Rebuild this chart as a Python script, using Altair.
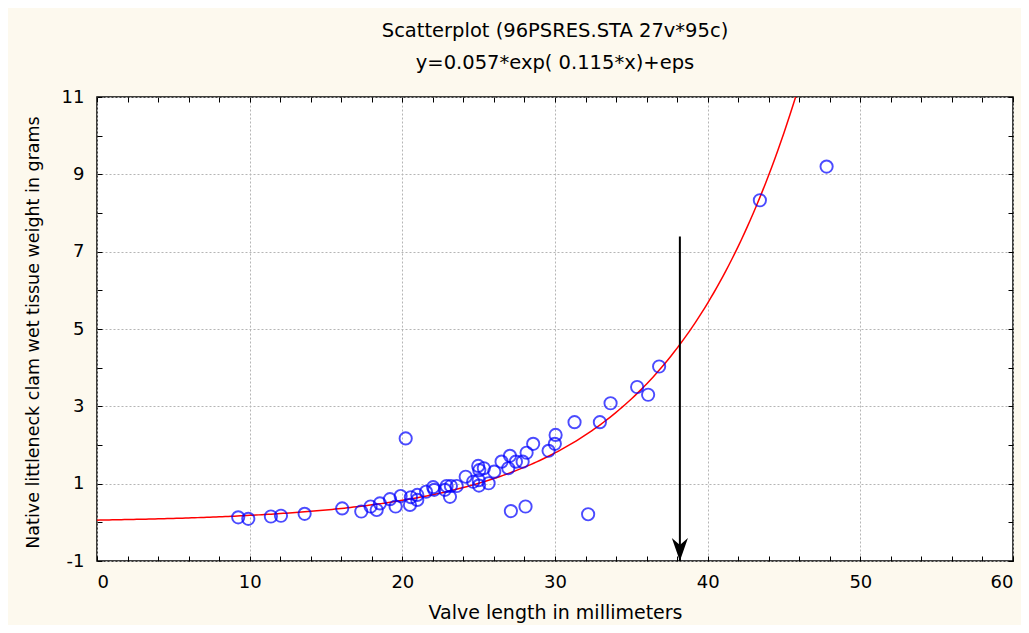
import altair as alt
import pandas as pd
import numpy as np

# Observed points (valve length mm, wet tissue weight g)
valve_length = [9.25, 9.91, 11.39, 12.05, 13.60, 16.06, 17.31, 17.92, 18.32, 18.53,
                19.19, 19.56, 19.89, 20.22, 20.50, 20.56, 20.98, 20.98, 21.55, 22.02,
                22.09, 22.79, 22.90, 23.12, 23.18, 23.56, 24.15, 24.64, 24.97, 25.04,
                25.02, 25.34, 25.65, 26.02, 26.50, 26.94, 27.05, 27.11, 27.44, 27.88,
                28.07, 28.14, 28.57, 29.58, 29.99, 30.04, 31.28, 32.17, 32.94, 33.64,
                35.38, 36.10, 36.82, 43.42, 47.79, 25.00]
tissue_weight = [0.13, 0.09, 0.15, 0.17, 0.22, 0.36, 0.28, 0.41, 0.32, 0.49,
                 0.60, 0.41, 0.68, 2.17, 0.45, 0.65, 0.71, 0.58, 0.79, 0.91,
                 0.84, 0.84, 0.94, 0.66, 0.94, 0.94, 1.18, 1.05, 1.46, 1.35,
                 0.95, 1.40, 1.01, 1.31, 1.57, 1.40, 1.72, 0.29, 1.57, 1.57,
                 0.41, 1.80, 2.03, 1.85, 2.03, 2.26, 2.59, 0.21, 2.59, 3.08,
                 3.50, 3.30, 4.03, 8.33, 9.20, 1.09]

# Fitted model from the title: y = 0.057*exp(0.115*x)
fit_a = 0.057
fit_b = 0.115
curve_x = list(np.arange(0, 47.01, 0.2))

# Marker (arrow) position
arrow_x = [38.18]
arrow_top = [7.39]
arrow_bottom = [-1.0]

x_major = [0, 10, 20, 30, 40, 50, 60]
x_minor = list(range(0, 61, 2))
y_major = [-1, 1, 3, 5, 7, 9, 11]
y_minor = list(range(-1, 12, 1))

pts = pd.DataFrame({"x": valve_length, "y": tissue_weight})
curve = pd.DataFrame({"x": curve_x})
curve["y"] = fit_a * np.exp(fit_b * curve["x"])
arrow = pd.DataFrame({"x": arrow_x, "y": arrow_top, "y2": arrow_bottom})

FONT = "DejaVu Sans"
xs = alt.Scale(domain=[0, 60], nice=False, zero=False)
ys = alt.Scale(domain=[-1, 11], nice=False, zero=False)

main_x_axis = alt.Axis(orient="bottom", values=x_major, grid=True, gridDash=[2, 2],
                       gridColor="#b5b5b5", gridWidth=1, ticks=False, tickSize=0,
                       domain=False, labelFontSize=18, labelFont=FONT, labelColor="black",
                       labelPadding=12, labelExpr="'' + datum.value",
                       title="Valve length in millimeters",
                       titleFont=FONT, titleFontSize=19, titleFontWeight="normal",
                       titleColor="black", titleY=51, titleBaseline="middle")
main_y_axis = alt.Axis(orient="left", values=y_major, grid=True, gridDash=[2, 2],
                       gridColor="#b5b5b5", gridWidth=1, ticks=False, tickSize=0,
                       domain=False, labelFontSize=18, labelFont=FONT, labelColor="black",
                       labelPadding=13, labelExpr="'' + datum.value",
                       title="Native littleneck clam wet tissue weight in grams",
                       titleFont=FONT, titleFontSize=17.5, titleFontWeight="normal",
                       titleColor="black", titleX=-64, titleY=235, titleAngle=-90,
                       titleBaseline="middle", titleAlign="center")


def tick_axis(orient, values):
    return alt.Axis(orient=orient, values=values, grid=False, labels=False, domain=False,
                    ticks=True, tickSize=5, offset=-5, tickColor="black", tickWidth=1,
                    title=None)


points = alt.Chart(pts).mark_point(
    shape="circle", filled=False, color="#0000ff", strokeWidth=1.9, size=150
).encode(
    x=alt.X("x:Q", scale=xs, axis=main_x_axis),
    y=alt.Y("y:Q", scale=ys, axis=main_y_axis),
)

line = alt.Chart(curve).mark_line(color="#ff0000", strokeWidth=1.5, clip=True).encode(
    x=alt.X("x:Q", scale=xs, axis=tick_axis("top", x_minor)),
    y=alt.Y("y:Q", scale=ys, axis=tick_axis("right", y_minor)),
)

rule = alt.Chart(arrow).mark_rule(color="black", strokeWidth=2).encode(
    x=alt.X("x:Q", scale=xs, axis=tick_axis("bottom", x_minor)),
    y=alt.Y("y:Q", scale=ys, axis=tick_axis("left", y_minor)),
    y2="y2:Q",
)

head = alt.Chart(arrow).mark_point(
    shape="M-0.7,-2 L0,0 L0.7,-2 L0,-1.4 Z", filled=True, color="black",
    size=529, opacity=1, strokeWidth=0
).encode(
    x=alt.X("x:Q", scale=xs, axis=None),
    y=alt.Y("y2:Q", scale=ys, axis=None),
)

chart = alt.layer(line, rule, head, points).resolve_axis(
    x="independent", y="independent"
).properties(
    width=916, height=464,
    autosize=alt.AutoSizeParams(type="none"),
    padding={"left": 89, "top": 89, "right": 8, "bottom": 64},
    background="#fdf9ee",
    title=alt.Title(["Scatterplot (96PSRES.STA 27v*95c)", "y=0.057*exp( 0.115*x)+eps"],
                    font=FONT, fontSize=19.5, fontWeight="normal", color="black",
                    lineHeight=32, anchor="middle", baseline="bottom", offset=25, dy=29),
).configure_view(
    fill="white", stroke="black", strokeWidth=1.5
)

chart.save("out.html", embed_options={"renderer": "svg", "actions": False})
